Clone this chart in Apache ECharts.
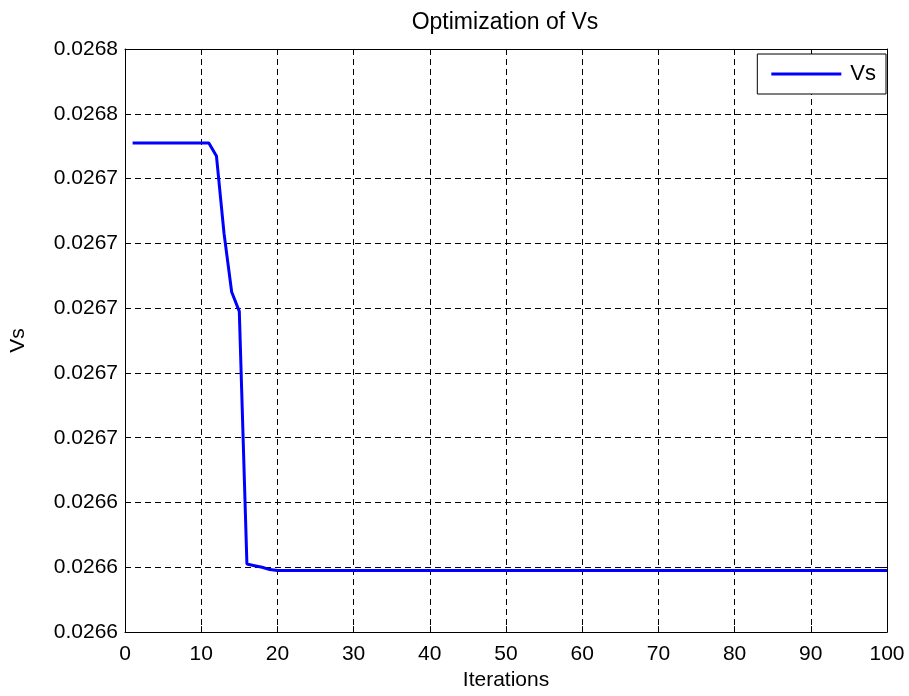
<!DOCTYPE html>
<html>
<head>
<meta charset="utf-8">
<style>
  html, body { margin: 0; padding: 0; background: #fff; }
  #chart { width: 909px; height: 696px; }
</style>
<script src="https://cdn.jsdelivr.net/npm/echarts@6/dist/echarts.min.js"></script>
</head>
<body>
<div id="chart"></div>
<script>
// ---- data ----
const iterations = [
  1,2,3,4,5,6,7,8,9,10,11,12,13,14,15,16,17,18,19,20,
  21,22,23,24,25,26,27,28,29,30,31,32,33,34,35,36,37,38,39,40,
  41,42,43,44,45,46,47,48,49,50,51,52,53,54,55,56,57,58,59,60,
  61,62,63,64,65,66,67,68,69,70,71,72,73,74,75,76,77,78,79,80,
  81,82,83,84,85,86,87,88,89,90,91,92,93,94,95,96,97,98,99,100
];
const vsValues = [
  0.026751,0.026751,0.026751,0.026751,0.026751,0.026751,0.026751,0.026751,0.026751,0.026751,
  0.026751,0.026747,0.026723,0.026705,0.026699,0.026621,0.0266205,0.026620,0.0266193,0.026619,
  0.026619,0.026619,0.026619,0.026619,0.026619,0.026619,0.026619,0.026619,0.026619,0.026619,
  0.026619,0.026619,0.026619,0.026619,0.026619,0.026619,0.026619,0.026619,0.026619,0.026619,
  0.026619,0.026619,0.026619,0.026619,0.026619,0.026619,0.026619,0.026619,0.026619,0.026619,
  0.026619,0.026619,0.026619,0.026619,0.026619,0.026619,0.026619,0.026619,0.026619,0.026619,
  0.026619,0.026619,0.026619,0.026619,0.026619,0.026619,0.026619,0.026619,0.026619,0.026619,
  0.026619,0.026619,0.026619,0.026619,0.026619,0.026619,0.026619,0.026619,0.026619,0.026619,
  0.026619,0.026619,0.026619,0.026619,0.026619,0.026619,0.026619,0.026619,0.026619,0.026619,
  0.026619,0.026619,0.026619,0.026619,0.026619,0.026619,0.026619,0.026619,0.026619,0.026619
];
const xTickLabels = ['0','10','20','30','40','50','60','70','80','90','100'];
const yTickLabels = ['0.0266','0.0266','0.0266','0.0267','0.0267','0.0267','0.0267','0.0267','0.0268','0.0268'];
const yMin = 0.0266, yMax = 0.02678, yStep = 0.00002;
const xMin = 0, xMax = 100, xStep = 10;

// ---- chart ----
const FONT = 'Liberation Sans, Arial, sans-serif';
const chart = echarts.init(document.getElementById('chart'), null, { renderer: 'canvas' });
const seriesData = iterations.map((x, i) => [x, vsValues[i]]);

const gridLine = { show: true, lineStyle: { color: '#000', width: 1, type: [6, 4] } };
const axisLine = { show: true, onZero: false, lineStyle: { color: '#000', width: 1 } };

chart.setOption({
  animation: false,
  backgroundColor: '#fff',
  title: {
    text: 'Optimization of Vs',
    left: 505, top: 10, textAlign: 'center', padding: 0,
    textStyle: { fontFamily: FONT, fontSize: 23, fontWeight: 'normal', color: '#000', lineHeight: 26 }
  },
  grid: { left: 124, right: 22, top: 49, bottom: 58, containLabel: false },
  legend: {
    data: ['Vs'], right: 23, top: 54,
    icon: 'rect', itemWidth: 70, itemHeight: 3,
    backgroundColor: '#fff', borderColor: '#000', borderWidth: 1, borderRadius: 0,
    padding: [9, 10, 9, 14],
    textStyle: { fontFamily: FONT, fontSize: 22, color: '#000', padding: [0, 0, 0, 4], lineHeight: 21 }
  },
  xAxis: [{
    type: 'value', min: xMin, max: xMax, interval: xStep, position: 'bottom',
    name: 'Iterations', nameLocation: 'middle', nameGap: 32,
    nameTextStyle: { fontFamily: FONT, fontSize: 21, color: '#000', lineHeight: 21 },
    axisLine: axisLine,
    axisTick: { show: true, inside: true, length: 6, lineStyle: { color: '#000' } },
    axisLabel: {
      fontFamily: FONT, fontSize: 21, color: '#000', margin: 12, lineHeight: 21,
      formatter: v => xTickLabels[Math.round((v - xMin) / xStep)]
    },
    splitLine: gridLine
  }, {
    type: 'value', min: xMin, max: xMax, interval: xStep, position: 'top',
    axisLine: axisLine,
    axisTick: { show: true, inside: true, length: 6, lineStyle: { color: '#000' } },
    axisLabel: { show: false }, splitLine: { show: false }
  }],
  yAxis: [{
    type: 'value', min: yMin, max: yMax, interval: yStep, position: 'left',
    name: 'Vs', nameLocation: 'middle', nameGap: 96, nameRotate: 90,
    nameTextStyle: { fontFamily: FONT, fontSize: 21, color: '#000', lineHeight: 21 },
    axisLine: axisLine,
    axisTick: { show: true, inside: true, length: 6, lineStyle: { color: '#000' } },
    axisLabel: {
      fontFamily: FONT, fontSize: 21, color: '#000', margin: 7,
      formatter: v => yTickLabels[Math.round((v - yMin) / yStep)]
    },
    splitLine: gridLine
  }, {
    type: 'value', min: yMin, max: yMax, interval: yStep, position: 'right',
    axisLine: axisLine,
    axisTick: { show: true, inside: true, length: 6, lineStyle: { color: '#000' } },
    axisLabel: { show: false }, splitLine: { show: false }
  }],
  series: [{
    name: 'Vs', type: 'line', xAxisIndex: 0, yAxisIndex: 0,
    data: seriesData, showSymbol: false, symbol: 'none',
    lineStyle: { color: '#0000ff', width: 3 }, itemStyle: { color: '#0000ff' }
  }]
});
</script>
</body>
</html>
